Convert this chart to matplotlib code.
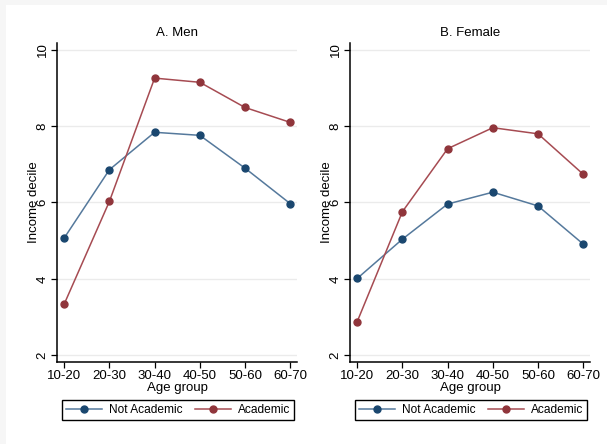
import matplotlib.pyplot as plt
from matplotlib.patches import Rectangle

plt.rcParams['font.family'] = ['Liberation Sans', 'DejaVu Sans']

age_groups = ['10-20', '20-30', '30-40', '40-50', '50-60', '60-70']
men_not_academic = [5.07, 6.86, 7.84, 7.76, 6.90, 5.97]
men_academic = [3.34, 6.03, 9.26, 9.15, 8.49, 8.10]
female_not_academic = [4.01, 5.04, 5.96, 6.27, 5.91, 4.91]
female_academic = [2.88, 5.76, 7.41, 7.96, 7.80, 6.74]

panels = [("A. Men", men_not_academic, men_academic),
          ("B. Female", female_not_academic, female_academic)]

blue_line, blue_mark = '#55799c', '#1a476f'
red_line, red_mark = '#a64b52', '#90353b'

fig = plt.figure(figsize=(6.07, 4.44), dpi=100, facecolor='#f6f6f6')
fig.patches.append(Rectangle((6/607, 0), 1, 1 - 5/444, transform=fig.transFigure,
                             facecolor='white', edgecolor='none', zorder=-1))

lefts = [57/607, 350/607]
for left, (title, na, ac) in zip(lefts, panels):
    ax = fig.add_axes([left, 82/444, 240/607, 319/444])
    x = range(len(age_groups))
    ax.plot(x, na, color=blue_line, lw=1.1, marker='o', ms=5,
            mfc=blue_mark, mec=blue_mark, label='Not Academic')
    ax.plot(x, ac, color=red_line, lw=1.1, marker='o', ms=5,
            mfc=red_mark, mec=red_mark, label='Academic')
    ax.set_xlim(-0.16, 5.15)
    ax.set_ylim(1.82, 10.18)
    ax.set_xticks(list(x))
    ax.set_xticklabels(age_groups)
    ax.set_yticks([2, 4, 6, 8, 10])
    ax.set_yticklabels(['2', '4', '6', '8', '10'], rotation=90, va='center')
    ax.grid(axis='y', color='#ebebeb', lw=1)
    ax.set_axisbelow(True)
    for s in ['top', 'right']:
        ax.spines[s].set_visible(False)
    for s in ['left', 'bottom']:
        ax.spines[s].set_linewidth(1.1)
    ax.tick_params(length=4, width=0.9, pad=2, labelsize=9.5)
    ax.set_title(title, fontsize=9.5, pad=5)
    ax.set_xlabel('Age group', fontsize=9.5, labelpad=0)
    ax.set_ylabel('Income decile', fontsize=9.5)
    ax.yaxis.set_label_coords(-0.07, 0.5)
    leg = ax.legend(loc='upper left', bbox_to_anchor=(0.021, -0.118),
                    ncol=2, fancybox=False, edgecolor='black',
                    framealpha=1, fontsize=8.6, borderpad=0.35, handlelength=3.0,
                    handletextpad=0.6, borderaxespad=0, columnspacing=1.0)
    leg.get_frame().set_linewidth(1.0)

fig.savefig('out.png', dpi=100, facecolor=fig.get_facecolor())
